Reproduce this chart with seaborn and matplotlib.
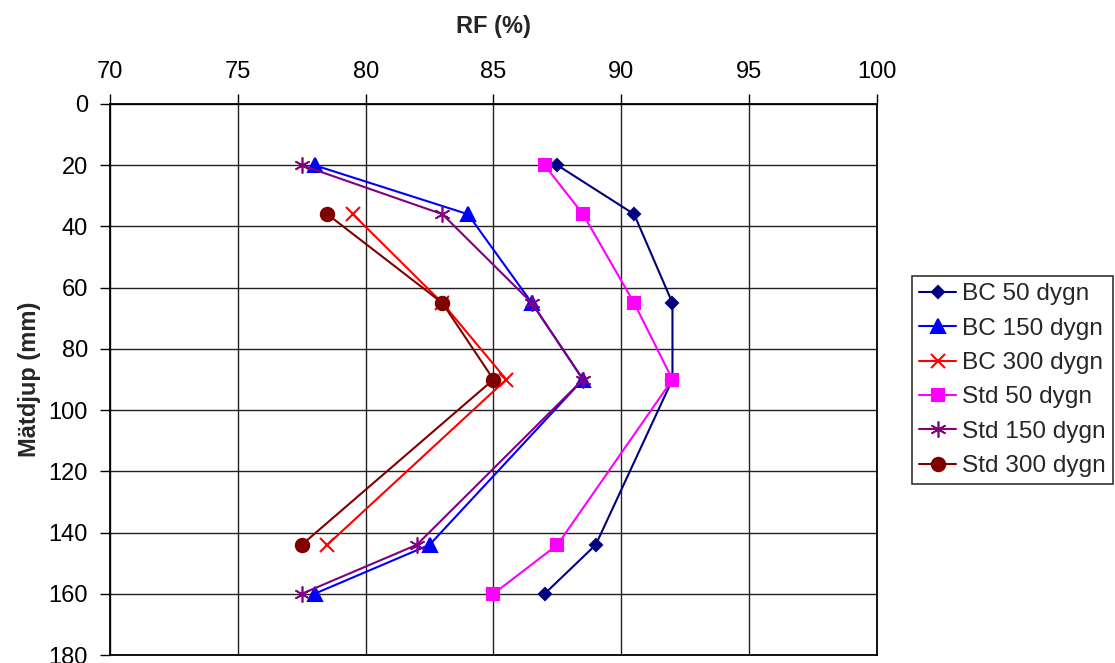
import matplotlib
matplotlib.use("Agg")
import matplotlib.pyplot as plt
import seaborn as sns
import pandas as pd

# ---- data ----
series_names = ["BC 50 dygn", "BC 150 dygn", "BC 300 dygn",
                "Std 50 dygn", "Std 150 dygn", "Std 300 dygn"]
depth_full = [20, 36, 65, 90, 144, 160]
depth_short = [36, 65, 90, 144]
bc50 = [87.5, 90.5, 92.0, 92.0, 89.0, 87.0]
bc150 = [78.0, 84.0, 86.5, 88.5, 82.5, 78.0]
bc300 = [79.5, 83.0, 85.5, 78.5]
std50 = [87.0, 88.5, 90.5, 92.0, 87.5, 85.0]
std150 = [77.5, 83.0, 86.5, 88.5, 82.0, 77.5]
std300 = [78.5, 83.0, 85.0, 77.5]
x_ticks = [70, 75, 80, 85, 90, 95, 100]
y_ticks = [0, 20, 40, 60, 80, 100, 120, 140, 160, 180]

rows = []
for name, vals, deps in [
    ("BC 50 dygn", bc50, depth_full),
    ("BC 150 dygn", bc150, depth_full),
    ("BC 300 dygn", bc300, depth_short),
    ("Std 50 dygn", std50, depth_full),
    ("Std 150 dygn", std150, depth_full),
    ("Std 300 dygn", std300, depth_short),
]:
    for v, d in zip(vals, deps):
        rows.append({"serie": name, "RF": v, "djup": d})
df = pd.DataFrame(rows)

styles = {
    "BC 50 dygn": dict(color="#000080", marker="D", ms=6.2, mew=1.5),
    "BC 150 dygn": dict(color="#0000FF", marker="^", ms=9.5, mew=1.5),
    "BC 300 dygn": dict(color="#FF0000", marker="x", ms=9.5, mew=1.5),
    "Std 50 dygn": dict(color="#FF00FF", marker="s", ms=9.2, mew=1.5),
    "Std 150 dygn": dict(color="#800080", marker=(6, 2, 0), ms=11.5, mew=1.2),
    "Std 300 dygn": dict(color="#800000", marker="o", ms=9.6, mew=1.5),
}

sns.set_theme(style="white")
plt.rcParams["font.family"] = ["Liberation Sans", "DejaVu Sans"]
FS = 17

fig = plt.figure(figsize=(11.15, 6.63), dpi=100)
ax = fig.add_axes([110 / 1115, 1 - 655 / 663, (877 - 110) / 1115, (655 - 104) / 663])

for name in series_names:
    st = styles[name]
    sub = df[df["serie"] == name]
    sns.lineplot(data=sub, x="RF", y="djup", sort=False, estimator=None,
                 orient="y", ax=ax, color=st["color"], marker=st["marker"],
                 markersize=st["ms"], markeredgecolor=st["color"],
                 markerfacecolor=st["color"], markeredgewidth=st["mew"],
                 linewidth=1.5, label=name)

ax.set_xlim(70, 100)
ax.set_ylim(180, 0)
ax.set_xticks(x_ticks)
ax.set_yticks(y_ticks)
ax.xaxis.tick_top()
ax.xaxis.set_label_position("top")
ax.tick_params(axis="both", labelsize=FS, colors="black", direction="out",
               length=7, width=1, pad=6)
ax.tick_params(axis="x", top=True, bottom=False, pad=8)
ax.tick_params(axis="y", left=True, pad=9)
ax.grid(True, color="#222222", linewidth=1)
ax.set_axisbelow(True)
for sp in ax.spines.values():
    sp.set_color("black")
    sp.set_linewidth(1.3)

ax.set_xlabel("RF (%)", fontsize=FS, fontweight="bold", labelpad=20)
ax.set_ylabel("Mätdjup (mm)", fontsize=FS, fontweight="bold", labelpad=5)

handles, labels = ax.get_legend_handles_labels()
leg = ax.legend(handles, labels, loc="upper left",
                bbox_to_anchor=(912 / 1115, 1 - 276 / 663),
                bbox_transform=fig.transFigure, fontsize=17.6,
                frameon=True, fancybox=False, edgecolor="black",
                handlelength=1.5, handletextpad=0.25, labelspacing=0.5,
                borderpad=0.3, borderaxespad=0)
leg.get_frame().set_linewidth(1.2)

fig.savefig("out.png", dpi=100)
